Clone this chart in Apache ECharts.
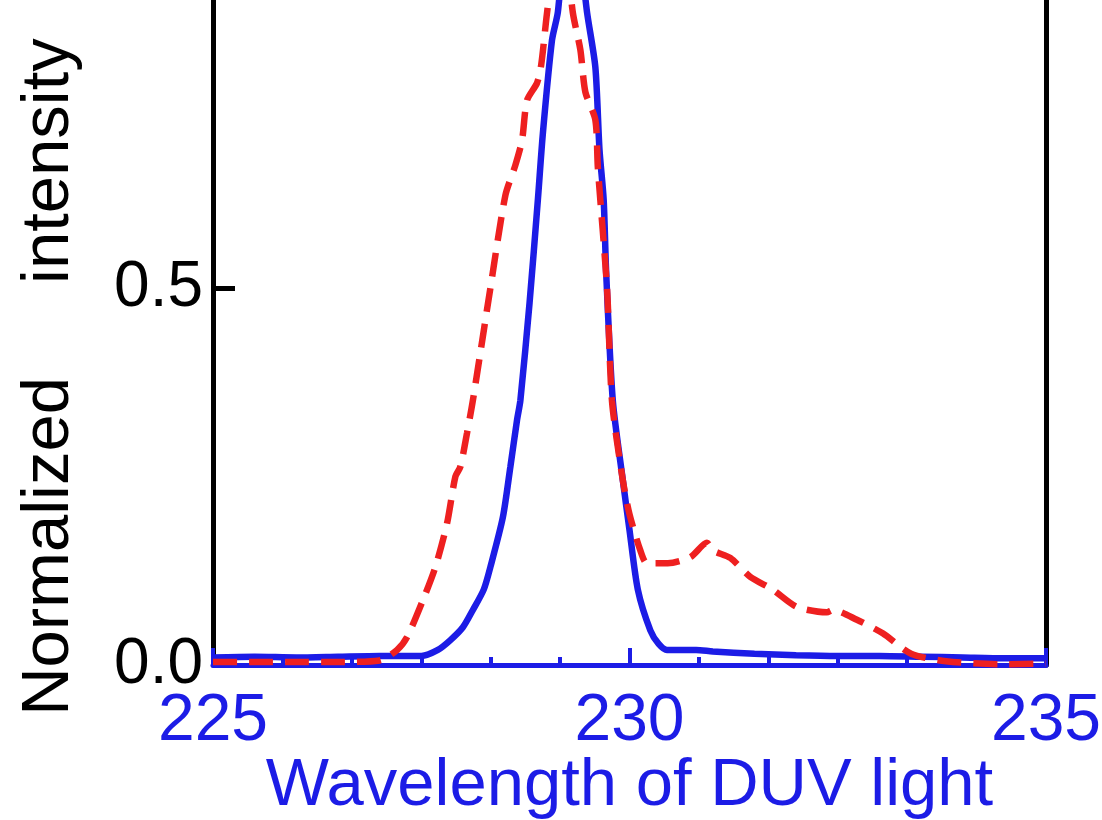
<!DOCTYPE html>
<html>
<head>
<meta charset="utf-8">
<script src="https://cdn.jsdelivr.net/npm/echarts@6/dist/echarts.min.js"></script>
<style>
  html, body { margin: 0; padding: 0; background: #fff; }
  #chart { width: 1102px; height: 820px; }
</style>
</head>
<body>
<div id="chart"></div>
<script>
// wavelength (nm) and normalized intensity
var blueX = [225.0, 225.5, 226.0, 226.5, 227.0, 227.3, 227.5, 227.7, 227.85, 228.0, 228.12, 228.25, 228.33, 228.48, 228.57, 228.65, 228.69, 228.8, 228.9, 228.96, 229.07, 229.14, 229.22, 229.31, 229.4, 229.49, 229.59, 229.64, 229.69, 229.72, 229.8, 229.92, 230.0, 230.1, 230.25, 230.35, 230.45, 230.8, 231.0, 231.5, 232.0, 232.5, 233.0, 233.5, 234.0, 234.5, 235.0];
var blueY = [0.010, 0.011, 0.010, 0.011, 0.012, 0.012, 0.012, 0.02, 0.033, 0.05, 0.073, 0.10, 0.13, 0.196, 0.263, 0.325, 0.351, 0.48, 0.617, 0.705, 0.829, 0.866, 0.96, 1.0, 0.95, 0.866, 0.793, 0.683, 0.617, 0.52, 0.35, 0.245, 0.179, 0.10, 0.046, 0.028, 0.02, 0.02, 0.018, 0.015, 0.013, 0.012, 0.012, 0.011, 0.010, 0.009, 0.009];

var redX = [225.0, 225.5, 226.0, 226.5, 227.0, 227.21, 227.33, 227.52, 227.67, 227.81, 227.91, 227.97, 228.05, 228.12, 228.33, 228.51, 228.63, 228.71, 228.77, 228.89, 228.94, 229.01, 229.17, 229.32, 229.41, 229.47, 229.59, 229.62, 229.73, 229.79, 229.92, 230.0, 230.13, 230.21, 230.46, 230.73, 230.93, 231.0, 231.21, 231.45, 231.72, 232.01, 232.37, 232.44, 232.73, 233.04, 233.38, 233.8, 234.45, 235.0];
var redY = [0.004, 0.004, 0.004, 0.004, 0.006, 0.02, 0.037, 0.086, 0.13, 0.188, 0.25, 0.263, 0.308, 0.351, 0.5, 0.623, 0.663, 0.696, 0.749, 0.772, 0.796, 0.865, 1.0, 0.865, 0.816, 0.76, 0.723, 0.66, 0.5, 0.35, 0.245, 0.2, 0.152, 0.135, 0.135, 0.143, 0.162, 0.152, 0.142, 0.117, 0.1, 0.077, 0.07, 0.073, 0.06, 0.042, 0.015, 0.005, 0.001, 0.002];

var xTickLabels = [225, 230, 235];
var yTickLabels = [0, 0.5];

var blue = '#1c1ce6';
var red = '#ee2020';
var font = 'Liberation Sans, Arial, sans-serif';

function pairs(xs, ys) {
  return xs.map(function (x, i) { return [x, ys[i]]; });
}

var chart = echarts.init(document.getElementById('chart'));
chart.setOption({
  animation: false,
  backgroundColor: '#fff',
  grid: { left: 213, right: 56, top: 0, bottom: 155, outerBoundsMode: 'none' },
  graphic: [{
    type: 'text',
    x: 50,
    y: 377,
    rotation: Math.PI / 2,
    style: {
      text: 'Normalized     intensity',
      fill: '#000',
      font: '67px ' + font,
      textAlign: 'center',
      textVerticalAlign: 'middle'
    }
  }],
  xAxis: {
    type: 'value',
    min: 225,
    max: 235,
    interval: 5,
    name: 'Wavelength of DUV light',
    nameLocation: 'middle',
    nameGap: 88,
    nameMoveOverlap: false,
    nameTextStyle: { color: blue, fontSize: 67, fontFamily: font },
    axisLine: { lineStyle: { color: blue, width: 5 } },
    axisTick: { inside: true, length: 17, lineStyle: { color: blue, width: 4 } },
    minorTick: { show: true, splitNumber: 6, length: 8, lineStyle: { color: blue, width: 4 } },
    axisLabel: {
      color: blue, fontSize: 66, fontFamily: font, margin: 24,
      customValues: xTickLabels
    },
    splitLine: { show: false }
  },
  yAxis: [{
    type: 'value',
    min: 0,
    max: 0.882,
    interval: 0.5,
    position: 'left',
    axisLine: { show: true, lineStyle: { color: '#000', width: 5 } },
    axisTick: { show: true, inside: true, length: 22, lineStyle: { color: '#000', width: 5 }, customValues: [0.5] },
    axisLabel: {
      color: '#000', fontSize: 64, fontFamily: font, margin: 10,
      customValues: yTickLabels,
      formatter: function (v) { return v.toFixed(1); }
    },
    splitLine: { show: false }
  }, {
    type: 'value',
    min: 0,
    max: 0.882,
    position: 'right',
    axisLine: { show: true, lineStyle: { color: '#000', width: 5 } },
    axisTick: { show: false },
    axisLabel: { show: false },
    splitLine: { show: false }
  }],
  series: [{
    type: 'line',
    data: pairs(blueX, blueY),
    showSymbol: false,
    smooth: 0.25,
    lineStyle: { color: blue, width: 6.5 },
    z: 3
  }, {
    type: 'line',
    data: pairs(redX, redY),
    showSymbol: false,
    smooth: 0.25,
    lineStyle: { color: red, width: 6.5, type: [24, 12] },
    z: 4
  }]
});
</script>
</body>
</html>
